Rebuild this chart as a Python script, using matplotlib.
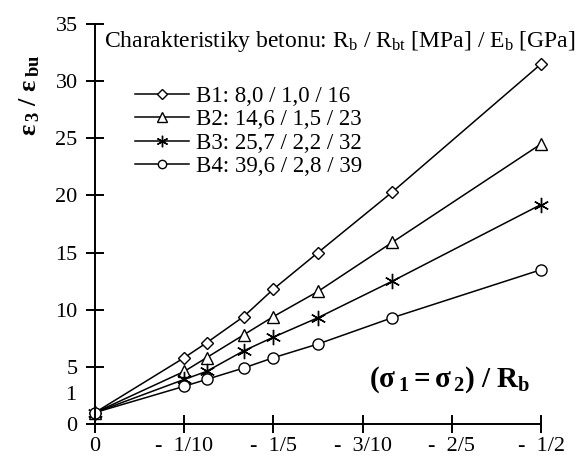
import matplotlib
matplotlib.use('Agg')
import matplotlib.pyplot as plt

plt.rcParams['font.family'] = ['Liberation Serif', 'DejaVu Serif']
plt.rcParams['mathtext.fontset'] = 'custom'
plt.rcParams['mathtext.rm'] = 'Liberation Serif'
plt.rcParams['mathtext.it'] = 'Liberation Serif:italic'
plt.rcParams['mathtext.bf'] = 'Liberation Serif:bold'

# stress ratio (sigma1 = sigma2) / Rb
x = [0, 1/10, 1/8, 1/6, 1/5, 1/4, 1/3, 1/2]

# strain ratio eps3 / eps_bu for each concrete
b1 = [1, 5.8, 7.1, 9.4, 11.8, 15.0, 20.3, 31.5]
b2 = [1, 4.6, 5.8, 7.8, 9.4, 11.6, 15.9, 24.5]
b3 = [1, 3.9, 4.6, 6.4, 7.6, 9.3, 12.5, 19.2]
b4 = [1, 3.3, 3.9, 4.9, 5.8, 7.0, 9.3, 13.5]

labels = ['B1: 8,0 / 1,0 / 16', 'B2: 14,6 / 1,5 / 23',
          'B3: 25,7 / 2,2 / 32', 'B4: 39,6 / 2,8 / 39']
markers = ['D', '^', (6, 2, 0), 'o']
msizes = [6.2, 9, 11, 8]

xticks = [0, 0.1, 0.2, 0.3, 0.4, 0.5]
xticklabels = ['0', '-  1/10', '-  1/5', '-  3/10', '-  2/5', '-  1/2']
yticks = [0, 5, 10, 15, 20, 25, 30, 35]

fig = plt.figure(figsize=(5.81, 4.70), dpi=100)
ax = fig.add_axes([95/581, 1 - 424/470, (541 - 95)/581, (424 - 24)/470])

for ys, lab, m, ms in zip([b1, b2, b3, b4], labels, markers, msizes):
    ax.plot(x, ys, color='black', lw=1.1, marker=m, ms=ms,
            mfc='white', mec='black', mew=1.0, label=lab, clip_on=False)

ax.set_xlim(0, 0.5)
ax.set_ylim(0, 35)
ax.set_xticks(xticks)
ax.set_xticklabels(xticklabels)
ax.set_yticks(yticks)
for s in ['top', 'right']:
    ax.spines[s].set_visible(False)
for s in ['left', 'bottom']:
    ax.spines[s].set_linewidth(1.4)
ax.tick_params(direction='inout', length=13, width=1.4, labelsize=16)
ax.tick_params(axis='x', pad=3)
ax.tick_params(axis='y', pad=6)

# odd extra label on the y axis
ax.text(-0.042, 2.45, '1', fontsize=16, ha='right', va='center',
        transform=ax.get_yaxis_transform())

ax.text(0.975, 0.11, r'$\mathbf{(σ\,_1 = σ\,_2)\ /\ R_b}$', fontsize=21,
        ha='right', va='center', transform=ax.transAxes)
fig.text(30/581, 1 - 95/470, r'$\mathbf{ε\,_3\ /\ ε\,_{bu}}$', fontsize=19,
         rotation=90, ha='center', va='center')

fig.text(104/581, 1 - 42/470,
         r'Charakteristiky betonu: R$_\mathrm{b}$ / R$_\mathrm{bt}$ [MPa] / E$_\mathrm{b}$ [GPa]',
         fontsize=17, ha='left', va='center')

ax.legend(loc='upper left', bbox_to_anchor=(135/581, 1 - 86/470),
          bbox_transform=fig.transFigure, frameon=False, fontsize=16.5,
          handlelength=2.35, handletextpad=0.3, labelspacing=0.1,
          borderpad=0, borderaxespad=0, markerscale=0.75)

fig.savefig('out.png', dpi=100)
